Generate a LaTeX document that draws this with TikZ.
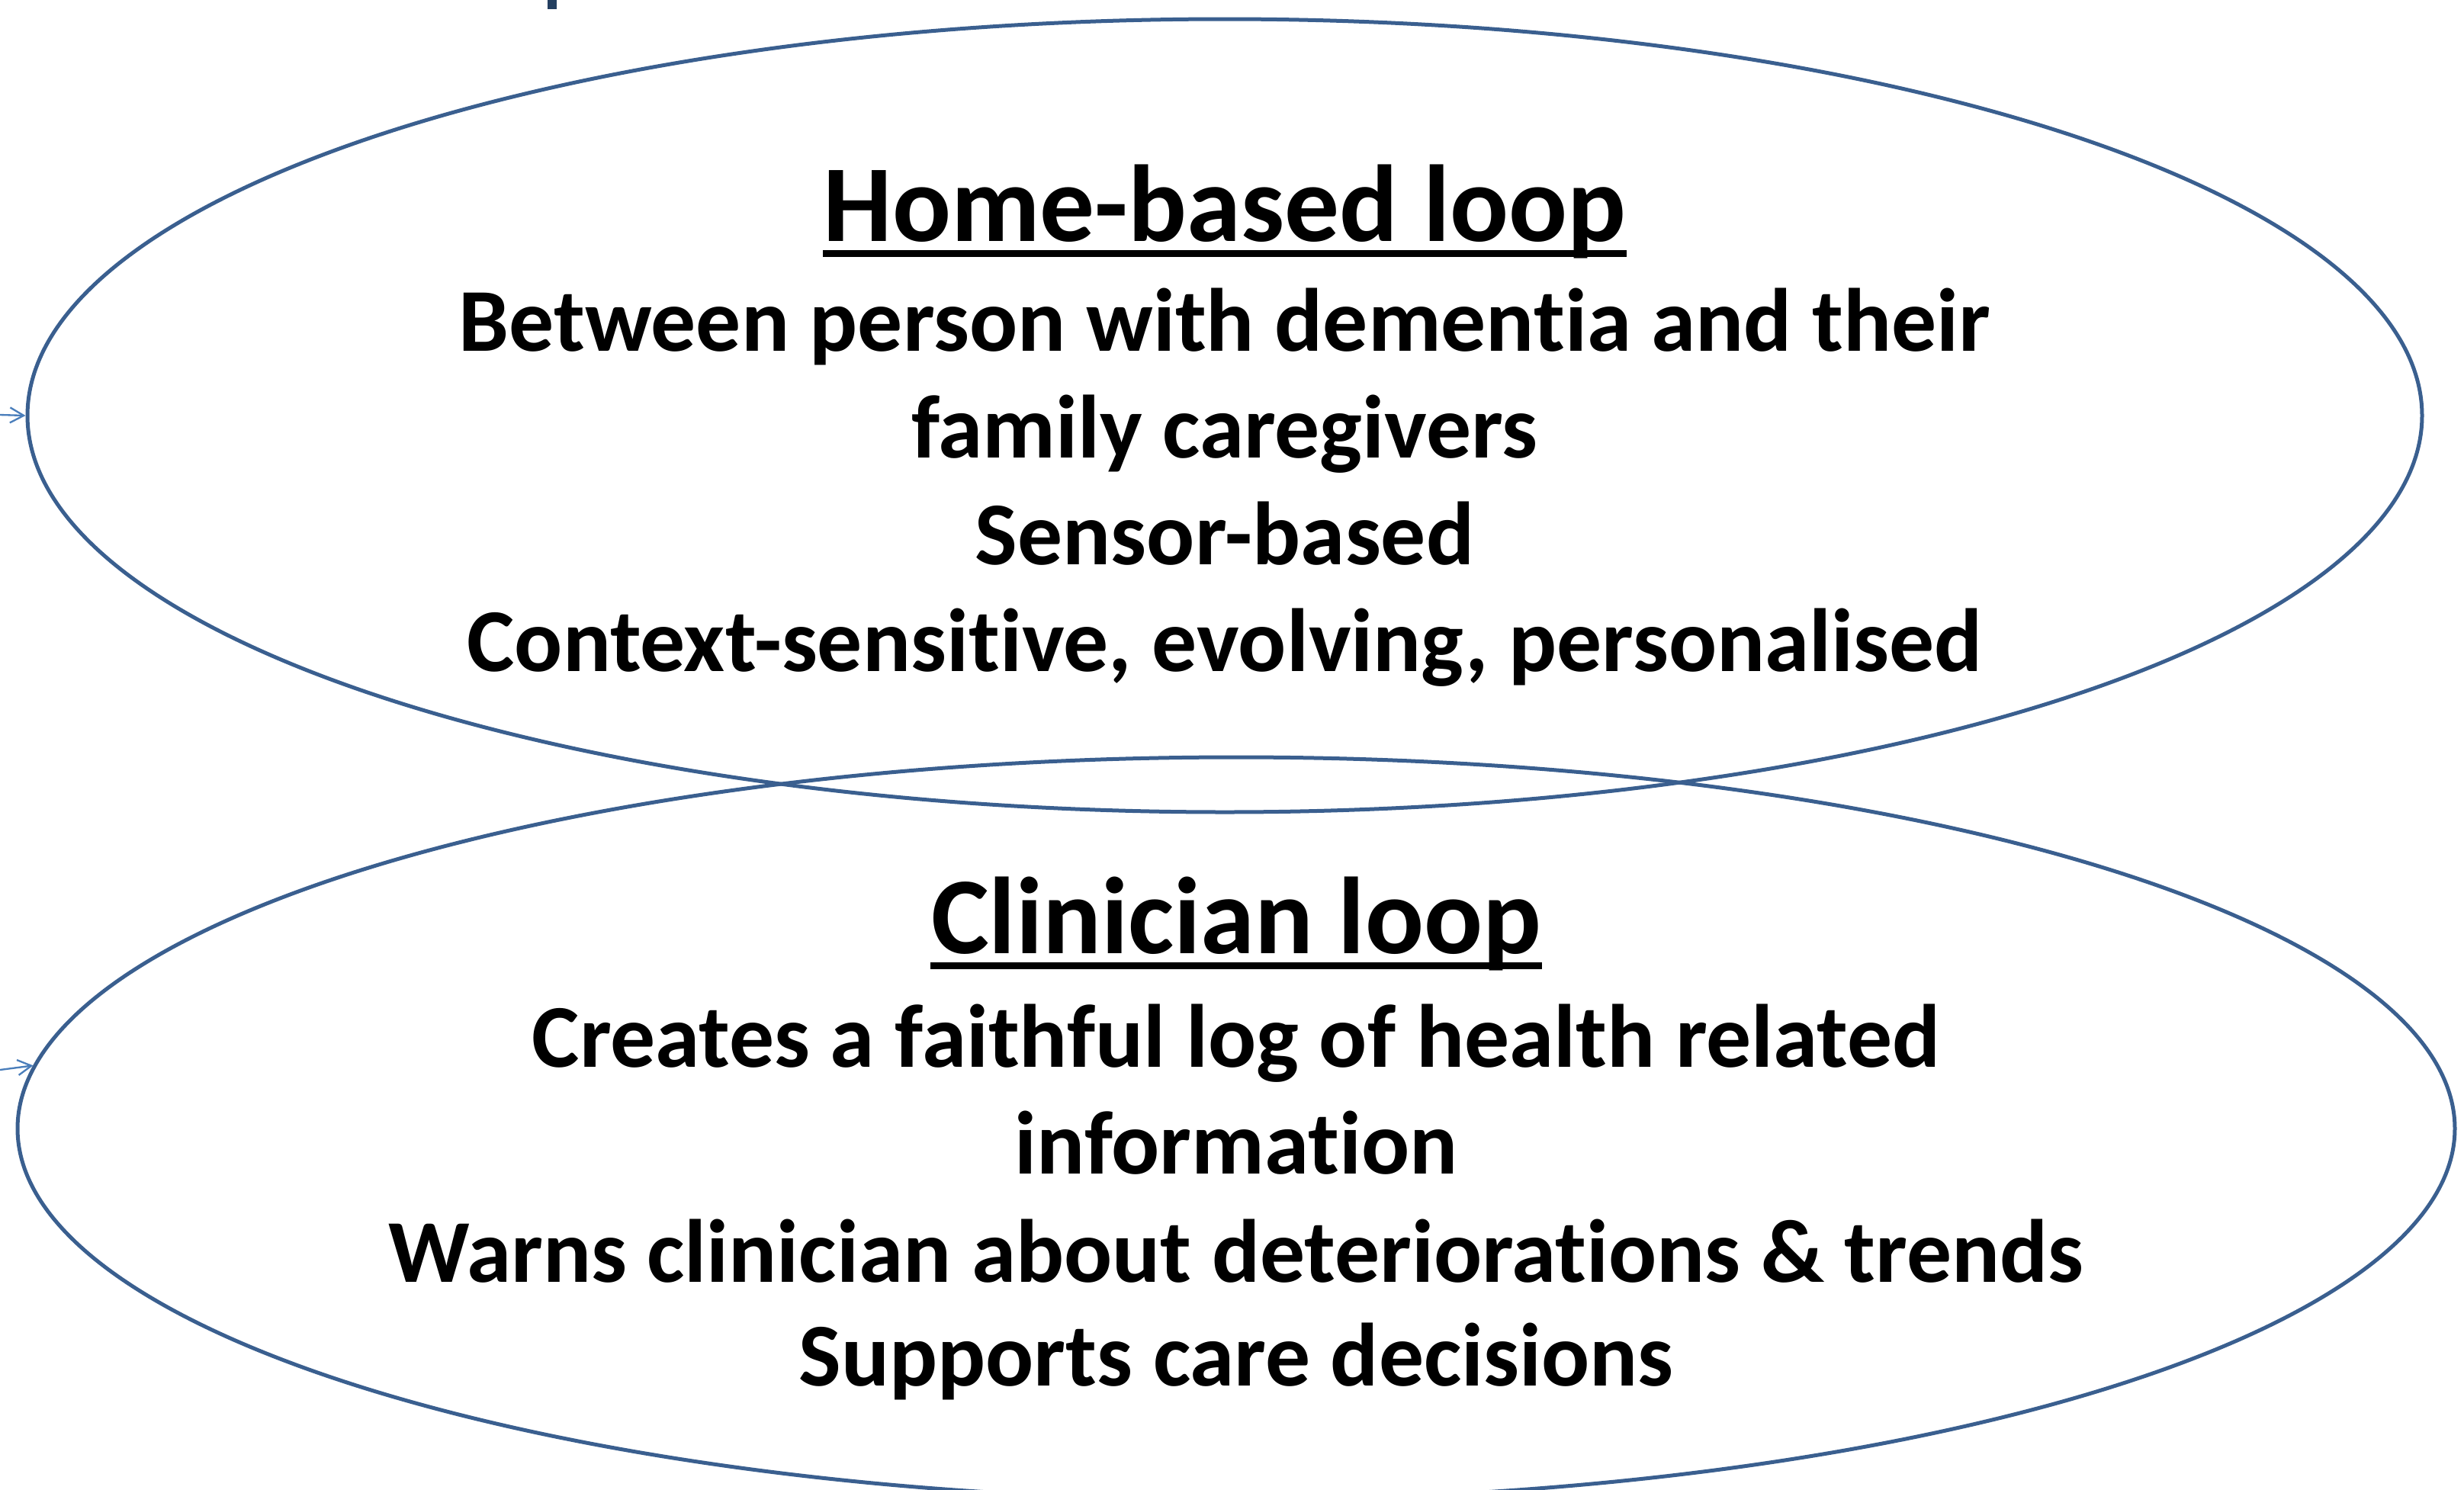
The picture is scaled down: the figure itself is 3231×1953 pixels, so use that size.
\documentclass[tikz,border=0pt]{standalone}
\usepackage{fontspec}
\setmainfont{Carlito}[Ligatures={NoCommon,NoRare}]
\usetikzlibrary{shapes.geometric,arrows.meta}
\definecolor{loopblue}{HTML}{3A5F8F}
\definecolor{arrowblue}{HTML}{4A7EBB}
\definecolor{titleblue}{HTML}{243F60}
\begin{document}
\begin{tikzpicture}[x=0.3pt,y=-0.3pt,
  loopshape/.style={draw=loopblue,line width=1.5pt,ellipse,inner sep=0pt},
  ttl/.style={font=\fontsize{43}{50}\selectfont\bfseries,anchor=base,inner sep=0pt},
  body/.style={font=\fontsize{35.3}{42}\selectfont\bfseries,anchor=base,inner sep=0pt},
  feed/.style={draw=arrowblue,line width=0.7pt,-{Straight Barb[length=5.4pt,width=6pt]}},
  uline/.style={line width=2.6pt}
]
\useasboundingbox (0,0) rectangle (3231,1953);
\clip (0,0) rectangle (3231,1953);
% fragment of cut-off title
\fill[titleblue] (718,0) rectangle (730,12);
% ellipses
\node[loopshape,minimum width=942pt,minimum height=312pt] (home) at (1606,545) {};
\node[loopshape,minimum width=958.8pt,minimum height=292.2pt] (clin) at (1621,1480) {};
% home loop text
\node[ttl] (ht) at (1606,316) {Home-based loop};
\draw[uline] ([yshift=-5pt]ht.base west) -- ([yshift=-5pt]ht.base east);
\node[body] (h1) at (1606,460) {Between person with dementia and their};
\node[body] (h2) at (1606,600) {family caregivers};
\node[body] (h3) at (1606,740) {Sensor-based};
\node[body] (h4) at (1606,880) {Context-sensitive, evolving, personalised};
% clinician loop text
\node[ttl] (ct) at (1621,1250) {Clinician loop};
\draw[uline] ([yshift=-5pt]ct.base west) -- ([yshift=-5pt]ct.base east);
\node[body] (c1) at (1621,1399) {Creates a faithful log of health related};
\node[body] (c2) at (1621,1539) {information};
\node[body] (c3) at (1621,1681) {Warns clinician about deteriorations \& trends};
\node[body] (c4) at (1621,1817) {Supports care decisions};
% incoming arrows
\coordinate (a1) at (0,544);
\coordinate (a2) at (0,1403);
\draw[feed] (a1) -- (home.west);
\draw[feed] (a2) -- (clin.177.6);
\end{tikzpicture}
\end{document}
